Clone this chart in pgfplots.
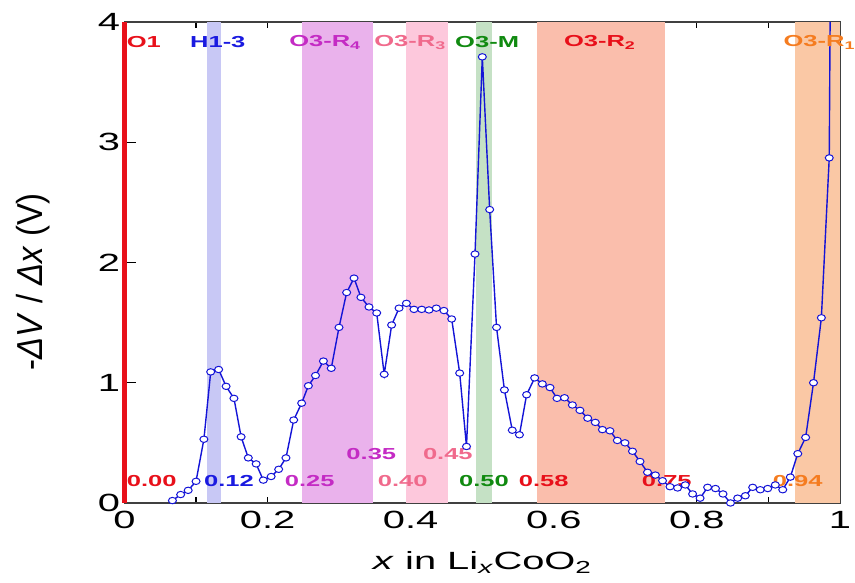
\documentclass[border=0pt]{standalone}
\usepackage{fontspec}
\setmainfont{Liberation Sans}
\newfontfamily\wide[FakeStretch=1.6]{Liberation Sans}
\usepackage{graphicx}
\usepackage{pgfplots}
\pgfplotsset{compat=1.18}
\definecolor{dblue}{RGB}{20,20,215}
\definecolor{bH}{RGB}{200,200,245}
\definecolor{bRfour}{RGB}{234,178,236}
\definecolor{bRthree}{RGB}{253,200,220}
\definecolor{bM}{RGB}{197,225,197}
\definecolor{bRtwo}{RGB}{250,190,172}
\definecolor{bRone}{RGB}{250,200,165}
\definecolor{cRed}{RGB}{232,16,26}
\definecolor{cBlue}{RGB}{26,26,224}
\definecolor{cMag}{RGB}{196,43,196}
\definecolor{cPink}{RGB}{240,106,140}
\definecolor{cGreen}{RGB}{16,138,16}
\definecolor{cOrange}{RGB}{245,124,32}
\pgfplotstableread{
x y
0.067 0.02
0.0785 0.07
0.089 0.105
0.100 0.18
0.111 0.53
0.1205 1.09
0.1316 1.11
0.142 0.97
0.153 0.87
0.163 0.55
0.173 0.375
0.184 0.325
0.194 0.19
0.205 0.22
0.2155 0.28
0.2257 0.375
0.2365 0.69
0.2476 0.83
0.257 0.975
0.267 1.06
0.278 1.18
0.289 1.12
0.2998 1.46
0.3105 1.75
0.3208 1.87
0.3305 1.71
0.3417 1.63
0.3525 1.58
0.363 1.07
0.3734 1.48
0.3837 1.62
0.394 1.66
0.4046 1.61
0.4154 1.61
0.4256 1.605
0.4358 1.62
0.4465 1.60
0.4573 1.53
0.4685 1.08
0.478 0.47
0.4899 2.07
0.5001 3.71
0.5104 2.44
0.520 1.46
0.531 0.94
0.542 0.605
0.552 0.567
0.562 0.90
0.5733 1.04
0.584 0.99
0.5947 0.96
0.6045 0.87
0.615 0.875
0.626 0.815
0.6366 0.77
0.6474 0.705
0.658 0.67
0.668 0.61
0.6785 0.60
0.6888 0.52
0.6995 0.50
0.710 0.43
0.7205 0.345
0.731 0.255
0.742 0.232
0.752 0.185
0.7624 0.135
0.773 0.125
0.7838 0.15
0.794 0.075
0.8045 0.04
0.815 0.13
0.826 0.12
0.8365 0.075
0.847 0.0
0.857 0.04
0.8677 0.06
0.878 0.13
0.8886 0.11
0.899 0.12
0.9096 0.15
0.920 0.11
0.9306 0.215
0.941 0.41
0.952 0.545
0.963 1.00
0.974 1.54
0.985 2.87
}\dvdx
\begin{document}
\begin{tikzpicture}
\begin{axis}[
  width=715.5bp, height=481bp, scale only axis,
  xmin=0, xmax=1, ymin=0, ymax=4,
  clip=false,
  axis line style={draw=black!75, line width=1.2bp},
  xtick={0,0.2,0.4,0.6,0.8,1},
  minor xtick={0.1,0.3,0.5,0.7,0.9},
  ytick={0,1,2,3,4},
  tick align=inside,
  xtick style={black, line width=1.2bp, /pgfplots/major tick length=6bp, /pgfplots/minor tick length=6bp},
  ytick style={black, line width=1.2bp, /pgfplots/major tick length=12bp},
  /pgf/number format/assume math mode=true,
  ticklabel style={font=\wide\fontsize{25}{25}\selectfont},
  xticklabel style={yshift=-5bp},
  yticklabel style={xshift=-1bp},
  xlabel={\textit{x} in Li\textsubscript{\textit{x}}CoO\textsubscript{2}},
  xlabel style={font=\wide\fontsize{25}{25}\selectfont, at={(rel axis cs:0.5,-0.124)}, anchor=center},
  ylabel={\scalebox{1}[1.1]{-\textit{ΔV} / \textit{Δx} (V)}},
  ylabel style={font=\fontsize{33}{33}\selectfont, at={(rel axis cs:-0.128,0.46)}, anchor=center},
]
% bands
\addplot[draw=none, fill=bH] coordinates {(0.116,0) (0.116,4) (0.135,4) (0.135,0)} --cycle;
\addplot[draw=none, fill=bRfour] coordinates {(0.248,0) (0.248,4) (0.347,4) (0.347,0)} --cycle;
\addplot[draw=none, fill=bRthree] coordinates {(0.394,0) (0.394,4) (0.452,4) (0.452,0)} --cycle;
\addplot[draw=none, fill=bM] coordinates {(0.491,0) (0.491,4) (0.513,4) (0.513,0)} --cycle;
\addplot[draw=none, fill=bRtwo] coordinates {(0.577,0) (0.577,4) (0.755,4) (0.755,0)} --cycle;
\addplot[draw=none, fill=bRone] coordinates {(0.937,0) (0.937,4) (1,4) (1,0)} --cycle;
% O1 line
\addplot[cRed, line width=4.3bp] coordinates {(0,0) (0,4)};
% data
\addplot[dblue, line width=1.4bp] coordinates {(0.985,2.87) (0.9862,4.0)};
\addplot[dblue, line width=1.4bp, mark=*, mark size=3.2bp,
  mark options={draw=dblue, fill=white, xscale=1.25, line width=1bp}] table[x=x,y=y] {\dvdx};
% phase labels
\begin{scope}[every node/.style={anchor=west, inner sep=0pt, font=\wide\bfseries\fontsize{16}{16}\selectfont}]
\node[text=cRed] at (axis cs:0.003,3.83) {O1};
\node[text=cBlue] at (axis cs:0.0915,3.83) {H1-3};
\node[text=cMag] at (axis cs:0.23,3.83) {O3-R\textsubscript{4}};
\node[text=cPink] at (axis cs:0.349,3.83) {O3-R\textsubscript{3}};
\node[text=cGreen] at (axis cs:0.462,3.83) {O3-M};
\node[text=cRed] at (axis cs:0.614,3.83) {O3-R\textsubscript{2}};
\node[text=cOrange] at (axis cs:0.921,3.83) {O3-R\textsubscript{1}};
\node[text=cRed] at (axis cs:0.003,0.186) {0.00};
\node[text=cBlue] at (axis cs:0.111,0.186) {0.12};
\node[text=cMag] at (axis cs:0.224,0.186) {0.25};
\node[text=cMag] at (axis cs:0.31,0.41) {0.35};
\node[text=cPink] at (axis cs:0.354,0.186) {0.40};
\node[text=cPink] at (axis cs:0.417,0.41) {0.45};
\node[text=cGreen] at (axis cs:0.4675,0.186) {0.50};
\node[text=cRed] at (axis cs:0.551,0.186) {0.58};
\node[text=cRed] at (axis cs:0.723,0.186) {0.75};
\node[text=cOrange] at (axis cs:0.906,0.186) {0.94};
\end{scope}
\coordinate (bbSW) at (rel axis cs:-0.174,-0.1663);
\coordinate (bbNE) at (rel axis cs:1.021,1.0457);
\end{axis}
\pgfresetboundingbox
\path[use as bounding box] (bbSW) rectangle (bbNE);
\end{tikzpicture}
\end{document}
